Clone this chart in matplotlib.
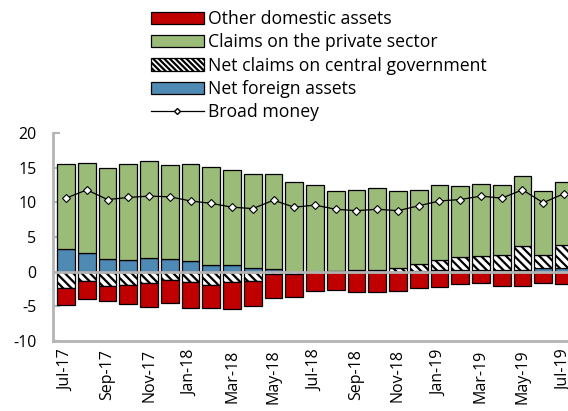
import numpy as np
import matplotlib
matplotlib.use("Agg")
import matplotlib.pyplot as plt
from matplotlib.lines import Line2D
from matplotlib.patches import Patch

plt.rcParams['font.family'] = ['Open Sans', 'DejaVu Sans']
plt.rcParams['hatch.linewidth'] = 1.6
plt.rcParams['axes.unicode_minus'] = False

months = ['Jul-17', 'Aug-17', 'Sep-17', 'Oct-17', 'Nov-17', 'Dec-17',
          'Jan-18', 'Feb-18', 'Mar-18', 'Apr-18', 'May-18', 'Jun-18',
          'Jul-18', 'Aug-18', 'Sep-18', 'Oct-18', 'Nov-18', 'Dec-18',
          'Jan-19', 'Feb-19', 'Mar-19', 'Apr-19', 'May-19', 'Jun-19', 'Jul-19']

net_foreign = [3.2, 2.7, 1.8, 1.7, 1.9, 1.8, 1.5, 1.0, 0.9, 0.5, 0.4, -0.1,
               0.0, 0.1, 0.1, 0.1, -0.1, 0.1, 0.2, 0.2, 0.3, 0.3, 0.3, 0.5, 0.5]
net_claims_gov = [-2.4, -1.3, -2.0, -1.9, -1.6, -1.2, -1.5, -1.9, -1.5, -1.3, -0.3, -0.2,
                  0.0, 0.0, 0.1, 0.15, 0.6, 1.05, 1.5, 1.9, 2.0, 2.15, 3.45, 1.85, 3.35]
claims_private = [12.4, 13.0, 13.1, 13.8, 14.1, 13.6, 14.0, 14.1, 13.8, 13.6, 13.7, 13.0,
                  12.5, 11.6, 11.6, 11.75, 11.1, 10.65, 10.8, 10.2, 10.4, 10.1, 10.1, 9.3, 9.15]
other_domestic = [-2.4, -2.6, -2.3, -2.7, -3.5, -3.3, -3.7, -3.3, -3.9, -3.6, -3.5, -3.4,
                  -2.85, -2.6, -3.0, -2.95, -2.7, -2.3, -2.2, -1.85, -1.65, -2.0, -2.0, -1.7, -1.8]
broad_money = [10.6, 11.8, 10.4, 10.7, 10.9, 10.8, 10.2, 9.85, 9.3, 9.1, 10.3, 9.3,
               9.6, 9.0, 8.8, 9.0, 8.8, 9.5, 10.2, 10.4, 10.9, 10.6, 11.8, 9.95, 11.25]

red = '#C00000'
green = '#9BBB79'
blue = '#4E8AB4'
grey = '#B4B4B4'

x = np.arange(len(months))
w = 0.86
pos_base = np.zeros(len(x))
neg_base = np.zeros(len(x))


def stack(vals, **kw):
    vals = np.array(vals, dtype=float)
    bottoms = np.where(vals >= 0, pos_base, neg_base)
    ax.bar(x, vals, w, bottom=bottoms, edgecolor='black', linewidth=0.9, zorder=2, **kw)
    pos_base[:] += np.clip(vals, 0, None)
    neg_base[:] += np.clip(vals, None, 0)


fig = plt.figure(figsize=(5.68, 4.11), dpi=100)
ax = fig.add_axes([53 / 568, 70 / 411, 524 / 568, 208 / 411])

stack(net_foreign, color=blue)
stack(net_claims_gov, color='white', hatch='\\\\\\\\')
stack(claims_private, color=green)
stack(other_domestic, color=red)

ax.axhline(0, color=grey, linewidth=2, zorder=3)
ax.plot(x, broad_money, color='black', linewidth=0.9, marker='D', markersize=4,
        markerfacecolor='white', markeredgecolor='black', markeredgewidth=0.8, zorder=4)

ax.set_xlim(-0.63, len(x) - 0.37)
ax.set_ylim(-10, 20)
ax.set_yticks(range(-10, 21, 5))
ax.set_xticks(x[::2])
ax.set_xticklabels(months[::2], rotation=90)
ax.tick_params(axis='x', length=0, labelsize=11.5, pad=6)
ax.tick_params(axis='y', direction='in', length=5, width=1.5, color=grey, labelsize=11.5, pad=12)

for s in ['top', 'right']:
    ax.spines[s].set_visible(False)
for s in ['left', 'bottom']:
    ax.spines[s].set_color(grey)
    ax.spines[s].set_linewidth(2)

handles = [
    Patch(facecolor=red, edgecolor='black', linewidth=0.9),
    Patch(facecolor=green, edgecolor='black', linewidth=0.9),
    Patch(facecolor='white', edgecolor='black', hatch='\\\\\\\\\\\\', linewidth=0.9),
    Patch(facecolor=blue, edgecolor='black', linewidth=0.9),
    Line2D([], [], color='black', linewidth=0.9, marker='D', markersize=3,
           markerfacecolor='white', markeredgecolor='black'),
]
labels = ['Other domestic assets', 'Claims on the private sector',
          'Net claims on central government', 'Net foreign assets', 'Broad money']
fig.legend(handles, labels, loc='upper left', bbox_to_anchor=(151 / 568, 1 - 10 / 411),
           frameon=False, fontsize=12.7, handlelength=3.0, handleheight=0.7,
           handletextpad=0.25, labelspacing=0.3, borderpad=0, borderaxespad=0)

fig.savefig('out.png', dpi=100)
